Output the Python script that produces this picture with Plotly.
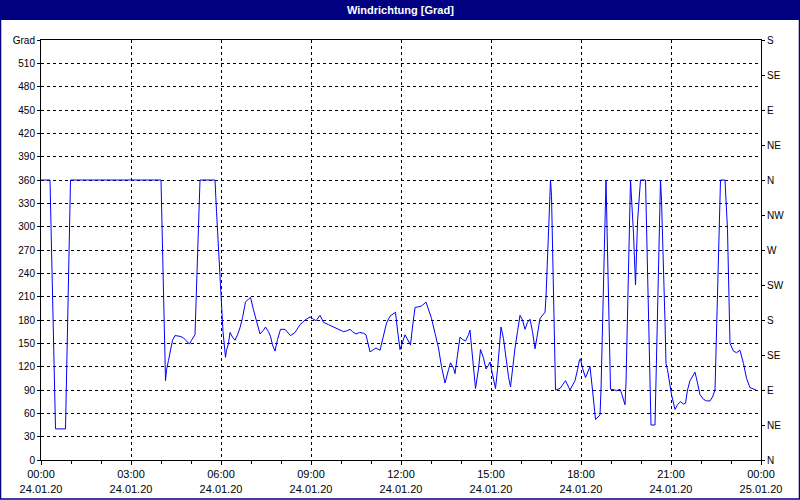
import plotly.graph_objects as go

DAY = "2020-01-24"
times = ["00:00","00:18","00:29","00:49","00:59","04:00","04:09","04:11","04:15","04:19",
         "04:23","04:28","04:38","04:45","04:50","04:57","05:01","05:08","05:18","05:48",
         "05:51","05:57","06:00","06:04","06:09","06:11","06:15","06:18","06:23","06:28",
         "06:33","06:38","06:43","06:49","06:55","06:59","07:05","07:10","07:18","07:25",
         "07:29","07:35","07:39","07:43","07:48","07:53","07:59","08:08","08:15","08:19",
         "08:28","08:38","08:48","08:58","09:03","09:10","09:18","09:25","09:35","09:45",
         "09:55","10:05","10:11","10:18","10:23","10:30","10:37","10:45","10:50","10:58",
         "11:05","11:10","11:18","11:25","11:31","11:38","11:45","11:49","11:53","11:58",
         "12:08","12:15","12:19","12:23","12:28","12:35","12:41","12:50","12:55","13:01",
         "13:08","13:15","13:21","13:28","13:35","13:39","13:45","13:48","13:53","13:58",
         "14:03","14:09","14:15","14:18","14:21","14:25","14:29","14:35","14:39","14:45",
         "14:50","14:55","14:58","15:01","15:05","15:09","15:13","15:17","15:20","15:25",
         "15:30","15:35","15:39","15:43","15:48","15:53","15:58","16:03","16:08","16:13",
         "16:18","16:23","16:28","16:33","16:38","16:48","16:50","16:56","16:59","17:01",
         "17:09","17:18","17:29","17:38","17:48","17:53","17:57","17:59","18:03","18:09",
         "18:15","18:18","18:23","18:27","18:29","18:38","18:40","18:50","18:55","18:59",
         "19:08","19:11","19:18","19:21","19:28","19:30","19:39","19:45","19:49","19:53",
         "19:59","20:09","20:20","20:28","20:39","20:41","20:48","20:50","20:53","20:57",
         "21:01","21:08","21:13","21:19","21:25","21:29","21:33","21:38","21:45","21:48",
         "21:53","21:58","22:05","22:11","22:18","22:23","22:28","22:39","22:48","22:53",
         "22:58","23:05","23:11","23:18","23:25","23:31","23:38","23:45","23:50"]
direction = [360,360,40,40,360,360,102,116,128,144,
             154,160,159,157,154,149,154,161,360,360,
             320,255,215,165,132,141,150,164,158,154,
             161,170,183,203,207,209,193,180,162,167,
             171,165,159,148,140,155,168,168,163,160,
             164,174,180,184,182,179,186,177,174,171,
             168,165,166,168,165,162,164,163,161,139,
             142,144,141,161,176,185,188,190,167,142,
             161,153,148,171,196,197,198,203,194,182,
             163,144,120,99,116,125,118,111,135,158,
             155,153,161,167,146,116,92,117,142,131,
             117,122,126,116,105,92,116,146,171,156,
             129,107,94,118,144,165,186,180,168,177,
             181,165,143,162,182,190,210,309,360,340,
             90,92,102,90,102,116,129,130,118,106,
             114,120,90,60,52,58,90,360,223,91,
             90,89,91,86,71,99,360,291,225,306,
             360,360,45,45,360,334,178,124,116,99,
             84,65,71,75,72,73,90,102,109,113,
             99,84,78,76,76,81,90,360,360,296,
             150,140,138,141,124,105,93,91,90]

x_tick_times = ["2020-01-24 00:00","2020-01-24 03:00","2020-01-24 06:00","2020-01-24 09:00",
                "2020-01-24 12:00","2020-01-24 15:00","2020-01-24 18:00","2020-01-24 21:00",
                "2020-01-25 00:00"]
x_tick_text = ["00:00<br>24.01.20","03:00<br>24.01.20","06:00<br>24.01.20","09:00<br>24.01.20",
               "12:00<br>24.01.20","15:00<br>24.01.20","18:00<br>24.01.20","21:00<br>24.01.20",
               "00:00<br>25.01.20"]
y_ticks = [0,30,60,90,120,150,180,210,240,270,300,330,360,390,420,450,480,510,540]
y_tick_text = ["0","30","60","90","120","150","180","210","240","270","300","330","360",
               "390","420","450","480","510","Grad"]
compass_vals = [0,45,90,135,180,225,270,315,360,405,450,495,540]
compass_text = ["N","NE","E","SE","S","SW","W","NW","N","NE","E","SE","S"]

x = [DAY + " " + t for t in times]

NAVY = "#000080"
FONT = "Liberation Sans"

fig = go.Figure()
fig.add_trace(go.Scatter(x=x, y=direction, mode="lines",
                         line=dict(color="#0000FF", width=1), showlegend=False,
                         hoverinfo="x+y"))
fig.add_trace(go.Scatter(x=x, y=direction, mode="lines", yaxis="y2",
                         line=dict(color="rgba(0,0,0,0)", width=0), showlegend=False,
                         hoverinfo="skip"))

L, R, T, B = 41, 39, 40, 40
W, H = 800, 500
pw, ph = W - L - R, H - T - B

def px_x(p):
    return (p - L) / pw

def px_y(p):
    return (H - B - p) / ph

fig.update_layout(
    width=W, height=H,
    margin=dict(l=L, r=R, t=T, b=B, pad=0, autoexpand=False),
    paper_bgcolor="white", plot_bgcolor="white",
    font=dict(family=FONT, size=10, color="black"),
    xaxis=dict(
        type="date", automargin=False,
        range=["2020-01-24 00:00", "2020-01-25 00:00"],
        tickvals=x_tick_times, ticktext=x_tick_text,
        ticks="outside", ticklen=4, tickcolor="black",
        showline=True, linecolor="black", linewidth=1, mirror=True,
        showgrid=True, gridcolor="black", griddash="3px,3px", gridwidth=1,
        minor=dict(dtick=3600000, ticks="outside", ticklen=3, tickcolor="black",
                   showgrid=False),
        tickfont=dict(family=FONT, size=11),
        zeroline=False,
    ),
    yaxis=dict(
        automargin=False,
        range=[0, 540], tickvals=y_ticks, ticktext=y_tick_text,
        ticks="outside", ticklen=3, tickcolor="black",
        showline=True, linecolor="black", linewidth=1,
        showgrid=True, gridcolor="black", griddash="3px,3px", gridwidth=1,
        zeroline=False, tickfont=dict(family=FONT, size=10),
    ),
    yaxis2=dict(
        automargin=False,
        range=[0, 540], overlaying="y", side="right",
        tickvals=compass_vals, ticktext=compass_text,
        ticks="outside", ticklen=3, tickcolor="black",
        showline=True, linecolor="black", linewidth=1,
        showgrid=False, zeroline=False, tickfont=dict(family=FONT, size=10),
    ),
    shapes=[
        dict(type="rect", xref="paper", yref="paper",
             x0=px_x(0), x1=px_x(800), y0=px_y(0), y1=px_y(20),
             fillcolor=NAVY, line=dict(width=0), layer="above"),
        dict(type="rect", xref="paper", yref="paper",
             x0=px_x(0.5), x1=px_x(799.5), y0=px_y(0.5), y1=px_y(499),
             fillcolor="rgba(0,0,0,0)", line=dict(color=NAVY, width=1.5), layer="above"),
    ],
    annotations=[
        dict(text="<b>Windrichtung [Grad]</b>", xref="paper", yref="paper",
             x=px_x(400), y=px_y(10), xanchor="center", yanchor="middle",
             showarrow=False,
             font=dict(family="Liberation Sans Narrow, " + FONT, size=11, color="white")),
    ],
)

fig.write_html("out.html", config={"displayModeBar": False},
               post_script="document.body.style.margin='0';document.body.style.overflow='hidden';")
